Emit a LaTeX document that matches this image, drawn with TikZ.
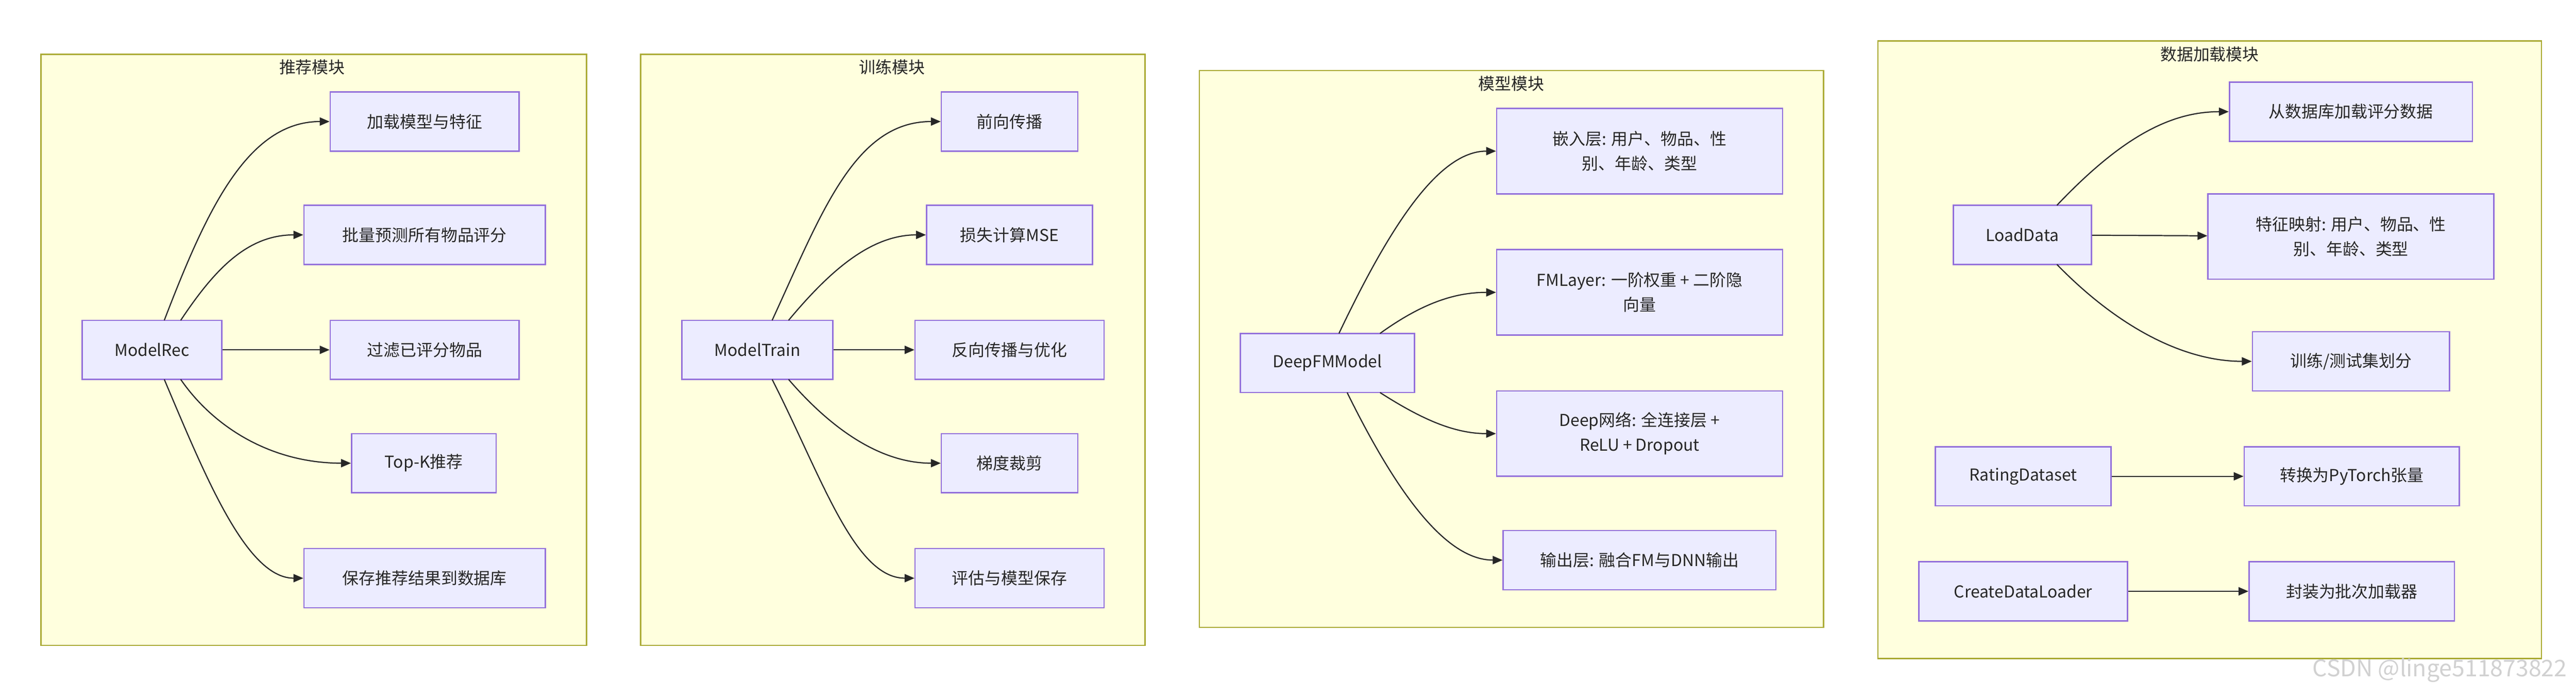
\documentclass[tikz,border=0pt]{standalone}
\usepackage{fontspec}
\setmainfont{Noto Sans CJK SC}
\usetikzlibrary{arrows.meta}
\definecolor{clf}{HTML}{FFFFDE}\definecolor{clb}{HTML}{AAAA33}
\definecolor{nf}{HTML}{ECECFF}\definecolor{nb}{HTML}{9370DB}
\tikzset{
 cl/.style={draw=clb,fill=clf,line width=0.8pt},
 tt/.style={font=\fontsize{10}{12}\selectfont,text=black!85},
 nd/.style={draw=nb,fill=nf,line width=0.8pt,inner sep=0pt,align=center,font=\fontsize{10}{15}\selectfont,text=black!85},
 ar/.style={-{Triangle[length=6pt,width=5pt]},line width=0.7pt,draw=black!85}
}
\newcommand{\nn}[6]{\node[nd,minimum width=#4-#2,minimum height=#5-#3] (#1) at ({(#2+#4)/2},{(#3+#5)/2}) {#6};}
\begin{document}
\begin{tikzpicture}[x=1pt,y=-1pt]
\useasboundingbox (0,0) rectangle (1568,426);
\fill[white] (0,0) rectangle (1568,426);
% clusters
\draw[cl] (25,33) rectangle (357,393); \node[tt] (t1) at (190,41) {推荐模块};
\draw[cl] (390,33) rectangle (697,393); \node[tt] (t2) at (543,41) {训练模块};
\draw[cl] (730,43) rectangle (1110,382); \node[tt] (t3) at (920,51) {模型模块};
\draw[cl] (1143,25) rectangle (1547,401); \node[tt] (t4) at (1345,33) {数据加载模块};
% cluster 1
\nn{mr}{50}{195}{135}{231}{ModelRec}
\nn{a1}{201}{56}{316}{92}{加载模型与特征}
\nn{a2}{185}{125}{332}{161}{批量预测所有物品评分}
\nn{a3}{201}{195}{316}{231}{过滤已评分物品}
\nn{a4}{214}{264}{302}{300}{Top-K推荐}
\nn{a5}{185}{334}{332}{370}{保存推荐结果到数据库}
\draw[ar] (100,195) .. controls (125,130) and (150,74) .. (a1.west);
\draw[ar] (110,195) .. controls (130,165) and (150,143) .. (a2.west);
\draw[ar] (mr) -- (a3);
\draw[ar] (110,231) .. controls (130,260) and (165,282) .. (a4.west);
\draw[ar] (100,231) .. controls (125,290) and (150,352) .. (a5.west);
% cluster 2
\nn{mt}{415}{195}{507}{231}{ModelTrain}
\nn{b1}{573}{56}{656}{92}{前向传播}
\nn{b2}{564}{125}{665}{161}{损失计算MSE}
\nn{b3}{557}{195}{672}{231}{反向传播与优化}
\nn{b4}{573}{264}{656}{300}{梯度裁剪}
\nn{b5}{557}{334}{672}{370}{评估与模型保存}
\draw[ar] (470,195) .. controls (500,130) and (520,74) .. (b1.west);
\draw[ar] (480,195) .. controls (505,165) and (530,143) .. (b2.west);
\draw[ar] (mt) -- (b3);
\draw[ar] (480,231) .. controls (505,260) and (535,282) .. (b4.west);
\draw[ar] (470,231) .. controls (500,290) and (520,352) .. (b5.west);
% cluster 3
\nn{dm}{755}{203}{861}{239}{DeepFMModel}
\nn{c1}{911}{66}{1085}{118}{嵌入层: 用户、物品、性\\别、年龄、类型}
\nn{c2}{911}{152}{1085}{204}{FMLayer: 一阶权重 + 二阶隐\\向量}
\nn{c3}{911}{238}{1085}{290}{Deep网络: 全连接层 +\\ReLU + Dropout}
\nn{c4}{915}{323}{1081}{359}{输出层: 融合FM与DNN输出}
\draw[ar] (815,203) .. controls (845,140) and (875,92) .. (c1.west);
\draw[ar] (840,203) .. controls (865,185) and (885,178) .. (c2.west);
\draw[ar] (840,239) .. controls (865,255) and (885,264) .. (c3.west);
\draw[ar] (820,239) .. controls (850,300) and (880,341) .. (c4.west);
% cluster 4
\nn{ld}{1189}{125}{1273}{161}{LoadData}
\nn{d1}{1357}{50}{1505}{86}{从数据库加载评分数据}
\nn{d2}{1344}{118}{1518}{170}{特征映射: 用户、物品、性\\别、年龄、类型}
\nn{d3}{1371}{202}{1491}{238}{训练/测试集划分}
\nn{rd}{1178}{272}{1285}{308}{RatingDataset}
\nn{d4}{1366}{272}{1497}{308}{转换为PyTorch张量}
\nn{cd}{1168}{342}{1295}{378}{CreateDataLoader}
\nn{d5}{1369}{342}{1494}{378}{封装为批次加载器}
\draw[ar] (1252,125) .. controls (1290,85) and (1320,68) .. (d1.west);
\draw[ar] (ld) -- (d2);
\draw[ar] (1252,161) .. controls (1290,200) and (1330,220) .. (d3.west);
\draw[ar] (rd) -- (d4);
\draw[ar] (cd) -- (d5);
\node[font=\fontsize{14}{16}\selectfont,text=black!18,anchor=east] (wm) at (1566,408) {CSDN @linge511873822};
\end{tikzpicture}
\end{document}
